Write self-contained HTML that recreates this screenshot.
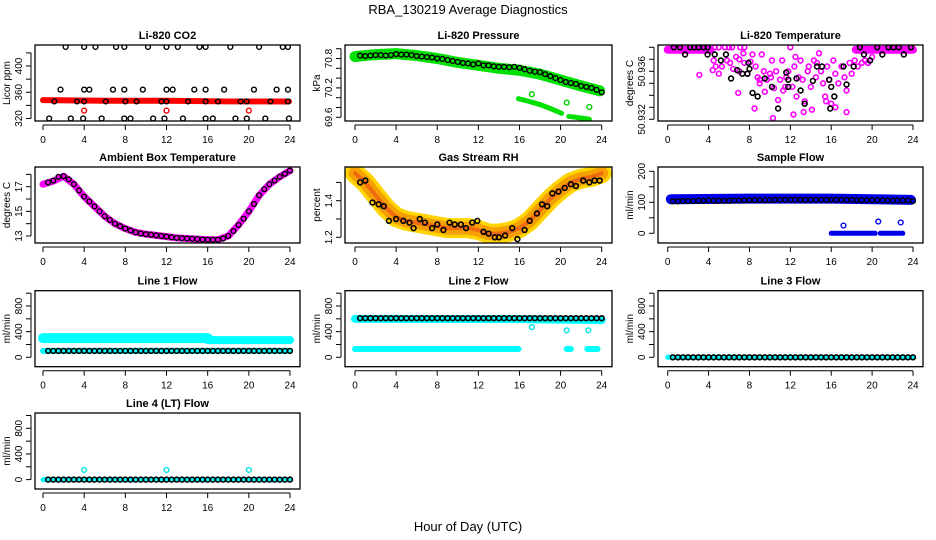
<!DOCTYPE html>
<html><head><meta charset="utf-8"><style>
html,body{margin:0;padding:0;background:#fff;}
svg{display:block;font-family:"Liberation Sans",Arial,sans-serif;}
</style></head><body>
<svg id="chart" width="936" height="540" viewBox="0 0 936 540" xmlns="http://www.w3.org/2000/svg">
<text x="468" y="14" text-anchor="middle" font-size="13">RBA_130219  Average Diagnostics</text>
<text x="468" y="531" text-anchor="middle" font-size="13">Hour of Day (UTC)</text>
</svg>
<script>
// ---------- data ----------
const hourTicks = [0,4,8,12,16,20,24];
const half = [0.5,1,1.5,2,2.5,3,3.5,4,4.5,5,5.5,6,6.5,7,7.5,8,8.5,9,9.5,10,10.5,11,11.5,12,12.5,13,13.5,14,14.5,15,15.5,16,16.5,17,17.5,18,18.5,19,19.5,20,20.5,21,21.5,22,22.5,23,23.5,24];
const hourly = [0,1,2,3,4,5,6,7,8,9,10,11,12,13,14,15,16,17,18,19,20,21,22,23,24];

// CO2
const co2BlackH = [2.2,4,5.1,7.1,7.9,10.2,12,13.1,15.2,15.8,18.2,21,23.3,23.8, 1.7,4,4.5,6.8,7.9,9.7,12,12.6,14.7,15.8,17.6,20.5,22.7,23.8, 1.1,3.3,4,6.1,8,9.1,11.5,12,14.1,15.8,17,19.2,19.8,22.1,23.8, 0.6,2.7,3.9,5.7,7.9,8.5,10.7,11.8,13.6,15.8,16.5,18.7,19.8,21.6,23.9];
const co2BlackV = [429,429,429,429,429,429,429,429,429,429,429,429,429,429, 364,364,364,364,364,364,364,364,364,364,364,364,364,364, 346,346,346,346,346,346,346,346,346,346,346,346,346,346,346, 320,320,320,320,320,320,320,320,320,320,320,320,320,320,320];
const co2RedBandH = [0,6,12,18,23.9];
const co2RedBandV = [348,347,347,346,346];
const co2RedOutH = [4,12,20];
const co2RedOutV = [332,332,332];

// Pressure
const presBandH = [0,2,4,6,8,10,12,14,16,18,20,22,23.8];
const presBandV = [70.84,70.88,70.9,70.86,70.8,70.72,70.66,70.6,70.56,70.48,70.36,70.24,70.14];
const presLowH1 = [15.9,17,18,19,20.1];
const presLowV1 = [69.98,69.92,69.86,69.78,69.68];
const presLowH2 = [20.8,22.8];
const presLowV2 = [69.62,69.56];
const presOutH = [17.2,20.6,22.8];
const presOutV = [70.07,69.9,69.81];
const presBlackV = [70.86,70.85,70.86,70.87,70.87,70.86,70.87,70.89,70.88,70.88,70.87,70.85,70.84,70.83,70.82,70.8,70.79,70.77,70.75,70.73,70.71,70.7,70.68,70.7,70.66,70.66,70.64,70.63,70.63,70.62,70.63,70.61,70.58,70.55,70.53,70.52,70.48,70.44,70.4,70.36,70.32,70.3,70.28,70.24,70.22,70.2,70.16,70.11];

// Li-820 temperature
const tempTopSegH = [0,4.2,18.4,24];
const tempMagH = [4.6,5,5.6,6,6.3,7.1,7.5,3.1,4.5,4.7,4.4,5,5.3,5.8,6.1,6.4,6.7,7.0,7.4,7.5,7.8,8.1,8.3,8.6,8.8,9.0,9.2,9.4,9.7,10.0,10.2,10.4,10.6,10.8,11.0,11.2,11.5,11.8,12.0,12.2,12.4,12.6,12.8,13.0,13.2,13.4,13.7,14.0,14.3,14.5,14.8,15.0,15.2,15.4,15.6,15.8,16.0,16.2,16.4,16.7,17.0,17.3,17.5,17.8,18.0,18.3,18.6,19.0,19.3,19.6,20.0,6.9,8.5,10.3,12.3,13.3,14.1,15.5,17.5,9.5,11.3,14.6,16.4,7.0,10.1,13.8,12.5,11.6,9.0];
const tempMagV = [50.9380,50.9380,50.9380,50.9380,50.9380,50.9380,50.9380,50.9357,50.9369,50.9364,50.9361,50.9358,50.9364,50.9369,50.9367,50.9362,50.9372,50.9360,50.9375,50.9367,50.9358,50.9368,50.9374,50.9364,50.9355,50.9350,50.9374,50.9360,50.9353,50.9358,50.9369,50.9346,50.9360,50.9336,50.9353,50.9369,50.9347,50.9360,50.9380,50.9347,50.9364,50.9339,50.9355,50.9369,50.9353,50.9335,50.9360,50.9347,50.9369,50.9355,50.9375,50.9360,50.9350,50.9339,50.9364,50.9353,50.9333,50.9369,50.9358,50.9350,50.9364,50.9355,50.9344,50.9367,50.9358,50.9369,50.9364,50.9367,50.9369,50.9367,50.9372,50.9342,50.9329,50.9321,50.9324,50.9326,50.9328,50.9335,50.9326,50.9343,50.9344,50.9367,50.9330,50.9370,50.9355,50.9364,50.9372,50.9355,50.9353];
const tempBlackH = [0.6,1.2,1.7,2.2,2.6,3.0,3.5,3.9,3.9,4.6,5.2,5.7,6.2,6.8,7.3,7.8,7.9,8.0,8.3,8.8,9.5,10.2,10.8,11.6,11.8,11.8,12.6,13.0,13.4,14.2,14.6,15.1,15.8,15.9,16.0,16.3,17.2,17.5,18.2,18.8,19.2,19.8,20.5,21.0,21.6,22.1,22.6,23.1,23.8];
const tempBlackV = [50.9380,50.9380,50.9374,50.9380,50.9380,50.9380,50.9380,50.9380,50.9374,50.9374,50.9369,50.9374,50.9354,50.9361,50.9358,50.9358,50.9367,50.9362,50.9342,50.9339,50.9354,50.9347,50.9329,50.9359,50.9353,50.9347,50.9354,50.9344,50.9333,50.9352,50.9364,50.9364,50.9353,50.9329,50.9347,50.9339,50.9364,50.9349,50.9364,50.9380,50.9374,50.9369,50.9380,50.9374,50.9380,50.9380,50.9380,50.9374,50.9380];

// Ambient box temperature
const ambBandV = [17.2,17.45,17.85,17.2,16.2,15.4,14.6,14.0,13.6,13.3,13.15,13.05,12.95,12.85,12.8,12.75,12.7,12.7,13.0,13.9,15.0,16.3,17.2,17.8,18.3];
const ambBlackV = [17.35,17.5,17.8,17.85,17.6,17.2,16.7,16.2,15.8,15.4,15.0,14.6,14.3,14.0,13.8,13.6,13.45,13.3,13.2,13.15,13.1,13.05,13.0,12.95,12.9,12.85,12.82,12.8,12.78,12.75,12.72,12.7,12.7,12.7,12.8,13.0,13.4,13.9,14.4,15.0,15.6,16.3,16.8,17.2,17.5,17.8,18.05,18.3];

// Gas stream RH
const rhBandV = [1.55,1.5,1.43,1.36,1.31,1.29,1.28,1.27,1.26,1.25,1.25,1.25,1.24,1.22,1.22,1.23,1.25,1.29,1.35,1.41,1.46,1.5,1.52,1.53,1.55];
const rhBlackH = [0.5,1,1.7,2.3,2.8,3.3,4,4.7,5.3,5.7,6.3,6.8,7.5,8,8.6,9.2,9.7,10.3,10.8,11.4,11.9,12.5,13,13.6,14,14.6,15.3,15.8,16.5,17,17.7,18.2,18.7,19.2,19.8,20.4,21,21.5,22.2,22.8,23.3,23.8];
const rhBlackV = [1.5,1.51,1.39,1.38,1.37,1.29,1.3,1.29,1.28,1.25,1.3,1.28,1.25,1.27,1.24,1.28,1.27,1.27,1.25,1.28,1.29,1.23,1.22,1.2,1.2,1.21,1.25,1.19,1.24,1.29,1.33,1.38,1.37,1.44,1.45,1.47,1.49,1.48,1.51,1.5,1.51,1.51];

// Sample flow
const sfBandH = [0.3,8,16,23.8];
const sfBandV = [110,112,112,108];
const sfLowH1 = [16,20.3];
const sfLowH2 = [20.8,23];
const sfLowV = [0,0];
const sfOutH = [17.2,20.6,22.8];
const sfOutV = [25,38,35];
const sfBlackV = [103,103,104,104,104,105,105,106,105,105,105,105,106,106,106,107,107,107,107,107,108,108,108,108,108,108,108,108,108,108,108,108,108,108,108,108,107,107,107,107,107,106,106,106,106,106,106,104];

// Line 1 flow
const l1HiH1 = [0,16];  const l1HiV1 = [300,300];
const l1HiH2 = [16,24]; const l1HiV2 = [268,268];
const l1LowH = [0,24];  const l1LowV = [100,100];
const l1BlackV = 100;
// Line 2 flow
const l2HiH = [0,16,24]; const l2HiV = [600,595,580];
const l2LowSegH = [[0,15.9],[20.6,21],[22.6,23.6]];
const l2LowV = 130;
const l2OutH = [17.2,20.6,22.7]; const l2OutV = [470,420,420];
const l2BlackV = 610;
// Line 3 & 4
const l3BlackV = 0;
const l4OutH = [4,12,20]; const l4OutV = [150,150,150];

// ---------- layout ----------
const svg = document.getElementById('chart');
const NS = 'http://www.w3.org/2000/svg';
const colBox = [[35,300,43,290],[345,612,355,601.7],[658,923,667.7,913]];
const rowTop = [45,167,290.7,413];
const BOXH = 76;
function el(tag, attrs, parent){const e=document.createElementNS(NS,tag);for(const k in attrs)e.setAttribute(k,attrs[k]);(parent||svg).appendChild(e);return e;}

function panel(name, col, row, title, ylab, y1v, y1off, y2v, y2off, ticks, labels){
  const g = el('g',{});
  
  
  const [L,R,x0,x24] = colBox[col]; const T = rowTop[row]; const B = T+BOXH;
  const sx = h => x0 + (x24-x0)*h/24;
  const k = (y2off-y1off)/(y2v-y1v);
  const sy = v => T + y1off + (v-y1v)*k;
  const clip = el('clipPath',{id:'clip-'+name},g);
  el('rect',{x:L,y:T,width:R-L,height:BOXH},clip);
  const plot = el('g',{'clip-path':'url(#clip-'+name+')'},g);
  
  
  const box = el('rect',{x:L,y:T,width:R-L,height:BOXH,fill:'none',stroke:'#000','stroke-width':1.3},g);
  
  
  const t = el('text',{x:(L+R)/2,y:T-6,'text-anchor':'middle','font-size':11,'font-weight':'bold'},g);
  t.textContent = title;
  
  
  const xa = el('g',{},g);
  
  
  el('line',{x1:sx(0),x2:sx(24),y1:B+4,y2:B+4,stroke:'#000','stroke-width':1},xa);
  hourTicks.forEach(h=>{
    el('line',{x1:sx(h),x2:sx(h),y1:B+4,y2:B+9,stroke:'#000','stroke-width':1},xa);
    const lt = el('text',{x:sx(h),y:B+22,'text-anchor':'middle','font-size':10},xa);
    lt.textContent = h;
    
    
  });
  const ya = el('g',{},g);
  
  
  el('line',{x1:L-4,x2:L-4,y1:sy(ticks[0]),y2:sy(ticks[ticks.length-1]),stroke:'#000','stroke-width':1},ya);
  ticks.forEach(v=>{el('line',{x1:L-9,x2:L-4,y1:sy(v),y2:sy(v),stroke:'#000','stroke-width':1},ya);});
  labels.forEach(v=>{
    const yy = sy(v);
    const lt = el('text',{x:L-13,y:yy,'text-anchor':'middle','font-size':10,transform:'rotate(-90 '+(L-13)+' '+yy+')'},ya);
    lt.textContent = v;
    
    
  });
  const yt = el('text',{x:L-25,y:T+BOXH/2,'text-anchor':'middle','font-size':10,transform:'rotate(-90 '+(L-25)+' '+(T+BOXH/2)+')'},ya);
  yt.textContent = ylab;
  
  
  return {plot,sx,sy};
}
function band(p, hs, vs, color, w, nm){
  const pts = hs.map((h,i)=>p.sx(h)+','+p.sy(vs[i])).join(' ');
  const pl = el('polyline',{points:pts,fill:'none',stroke:color,'stroke-width':w,'stroke-linejoin':'round','stroke-linecap':'round'},p.plot);
  
  
}
function pts(p, hs, vs, color, nm, sw){
  hs.forEach((h,i)=>{
    const c = el('circle',{cx:p.sx(h),cy:p.sy(vs[i]),r:2.4,fill:'none',stroke:color,'stroke-width':sw||1.4},p.plot);
    
    
  });
}
const fill = (n,v)=>new Array(n).fill(v);

let p = panel('co2',0,0,'Li-820 CO2','Licor ppm',320,73.5,400,21,[320,340,360,380,400,420],[320,360,400]);
band(p,co2RedBandH,co2RedBandV,'#ff0000',6,'co2-red-band');
pts(p,co2RedOutH,co2RedOutV,'#ff0000','co2-red-point');
pts(p,co2BlackH,co2BlackV,'#000','co2-black-point');

p = panel('pressure',1,0,'Li-820 Pressure','kPa',69.6,72.3,70.8,13.5,[69.6,69.8,70.0,70.2,70.4,70.6,70.8,71.0],[69.6,70.2,70.8]);
band(p,presBandH,presBandV,'#00e000',11,'pressure-green-band');
band(p,presLowH1,presLowV1,'#00e000',5,'pressure-low-band');
band(p,presLowH2,presLowV2,'#00e000',5,'pressure-low-band');
pts(p,presOutH,presOutV,'#00cc00','pressure-green-point');
pts(p,half,presBlackV,'#000','pressure-black-point');

p = panel('li820-temp',2,0,'Li-820 Temperature','degrees C',50.932,74.3,50.936,26.3,[50.932,50.933,50.934,50.935,50.936,50.937,50.938],[50.932,50.936]);
band(p,tempTopSegH.slice(0,2),[50.9378,50.9378],'#ff00ff',8,'temp-top-band');
band(p,tempTopSegH.slice(2,4),[50.9378,50.9378],'#ff00ff',8,'temp-top-band');
pts(p,tempMagH,tempMagV,'#ff00ff','temp-magenta-point',1.6);
pts(p,tempBlackH,tempBlackV,'#000','temp-black-point',1.6);

p = panel('ambient',0,1,'Ambient Box Temperature','degrees C',13,69,17,19.7,[13,14,15,16,17,18],[13,15,17]);
band(p,hourly,ambBandV,'#ff00ff',7,'ambient-band');
pts(p,half,ambBlackV,'#000','ambient-black-point');

p = panel('rh',1,1,'Gas Stream RH','percent',1.2,70.3,1.4,33.7,[1.2,1.3,1.4,1.5],[1.2,1.4]);
band(p,hourly,rhBandV,'#ffd400',20,'rh-yellow-band');
band(p,hourly,rhBandV,'#f5a000',13,'rh-orange-band');
band(p,hourly,rhBandV,'#f06a10',4,'rh-red-core');
pts(p,rhBlackH,rhBlackV,'#000','rh-black-point',1.6);

p = panel('sample-flow',2,1,'Sample Flow','ml/min',0,66.3,100,35.3,[0,50,100,150,200],[0,100,200]);
band(p,sfBandH,sfBandV,'#0000ee',10,'sample-flow-band');
band(p,sfLowH1,sfLowV,'#0000ee',5,'sample-flow-low-band');
band(p,sfLowH2,sfLowV,'#0000ee',5,'sample-flow-low-band');
pts(p,sfOutH,sfOutV,'#0000ee','sample-flow-outlier');
pts(p,half,sfBlackV,'#000','sample-flow-black-point');

const flowTicks = [0,200,400,600,800,1000], flowLabels = [0,400,800];
p = panel('line1',0,2,'Line 1 Flow','ml/min',0,66.6,800,15.3,flowTicks,flowLabels);
band(p,l1HiH1,l1HiV1,'#00ffff',10,'line1-cyan-band');
band(p,l1HiH2,l1HiV2,'#00ffff',8,'line1-cyan-band');
band(p,l1LowH,l1LowV,'#00ffff',6,'line1-cyan-low-band');
pts(p,half,fill(half.length,l1BlackV),'#000','line1-black-point',1.6);

p = panel('line2',1,2,'Line 2 Flow','ml/min',0,66.6,800,15.3,flowTicks,flowLabels);
band(p,l2HiH,l2HiV,'#00ffff',8,'line2-cyan-band');
l2LowSegH.forEach(s=>band(p,s,[l2LowV,l2LowV],'#00ffff',6,'line2-cyan-low-band'));
pts(p,l2OutH,l2OutV,'#00e5e5','line2-cyan-outlier');
pts(p,half,fill(half.length,l2BlackV),'#000','line2-black-point',1.6);

p = panel('line3',2,2,'Line 3 Flow','ml/min',0,66.6,800,15.3,flowTicks,flowLabels);
band(p,[0,24],[0,0],'#00ffff',5,'line3-cyan-band');
pts(p,half,fill(half.length,l3BlackV),'#000','line3-black-point',1.6);

p = panel('line4',0,3,'Line 4 (LT) Flow','ml/min',0,66.6,800,15.3,flowTicks,flowLabels);
band(p,[0,24],[0,0],'#00ffff',5,'line4-cyan-band');
pts(p,half,fill(half.length,l3BlackV),'#000','line4-black-point',1.6);
pts(p,l4OutH,l4OutV,'#00e5e5','line4-cyan-outlier');
</script>
</body></html>
